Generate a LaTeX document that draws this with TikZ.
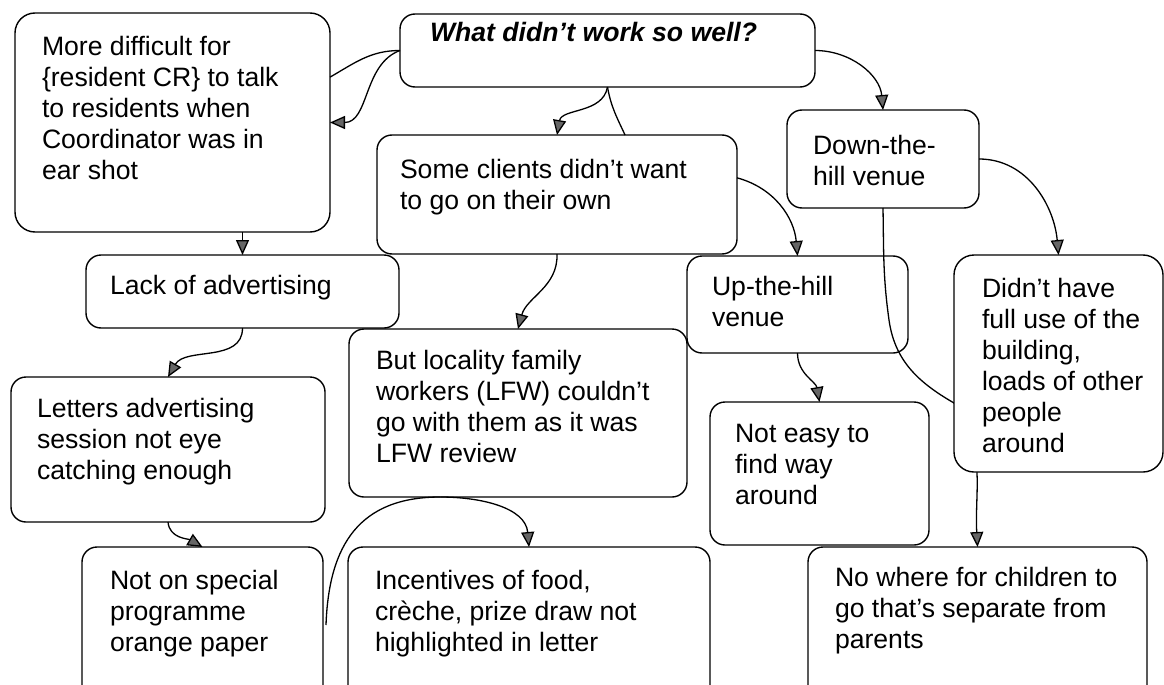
\documentclass[tikz,border=0pt]{standalone}
\usepackage{fontspec}
\setmainfont{Liberation Sans}
\usetikzlibrary{arrows.meta,calc,backgrounds}
% multi-line box text; the first baseline is the node's base
\newcommand\bxt[1]{\parbox[t]{400pt}{\raggedright\fontsize{26.6pt}{31pt}\selectfont #1}}

\begin{document}
\begin{tikzpicture}[x=1pt,y=1pt,
  card/.style={draw=black, line width=1.4pt, rounded corners=15pt,
    inner sep=0pt, outer sep=0pt, anchor=north west},
  words/.style={anchor=base west, inner sep=0pt, outer sep=0pt},
  link/.style={draw=black, line width=1.3pt},
  arr/.style={link, -{Triangle[length=15pt,width=13pt,fill=black!60]}},
]
\useasboundingbox (0,0) rectangle (1164,-685);

% boxes
\node[card, minimum width=415pt, minimum height=73pt]  (Q) at (400,-14) {};
\node[card, minimum width=315pt, minimum height=219pt, rounded corners=20pt] (A) at (15,-13) {};
\node[card, minimum width=360pt, minimum height=119pt] (B) at (377,-135) {};
\node[card, minimum width=192pt, minimum height=98pt]  (C) at (787,-110) {};
\node[card, minimum width=313pt, minimum height=73pt]  (D) at (86,-255) {};
\node[card, minimum width=338pt, minimum height=168pt] (E) at (349,-329) {};
\node[card, minimum width=221pt, minimum height=97pt]  (F) at (687,-256) {};
\node[card, minimum width=219pt, minimum height=143pt] (H) at (710,-402) {};
\node[card, minimum width=339pt, minimum height=160pt] (I) at (808,-547) {};
\node[card, minimum width=314pt, minimum height=145pt] (J) at (11,-377) {};
\node[card, minimum width=241pt, minimum height=160pt] (K) at (82,-547) {};
\node[card, minimum width=362pt, minimum height=160pt] (L) at (348,-547) {};
\node[card, fill=white, minimum width=209pt, minimum height=217pt, rounded corners=20pt] (G) at (954,-255) {};

% long connector that runs behind the "Didn't have" box
\coordinate (c1) at (889,-320);
\coordinate (cg) at (954,-403);
\begin{scope}[on background layer]
  \draw[arr] (C.south) to[out=271,in=98] (c1) to[out=-82,in=150] (cg)
    to[out=-55,in=93] (I.north);
\end{scope}

% connectors
\draw[link] (Q.west) to[out=180,in=30] ($(A.north east)!0.293!(A.south east)$);
\draw[arr] (Q.west) to[out=200,in=0] (A.east);
\draw[arr] (Q.south) to[out=260,in=80] (B.north);
\draw[link] (Q.south) to[out=280,in=115] ($(B.north west)!0.689!(B.north east)$);
\draw[arr] (Q.east) to[out=0,in=95] (C.north);
\draw[arr] (D.north |- A.south) -- (D.north);
\draw[arr] (B.south) to[out=272,in=75] (E.north);
\draw[arr] ($(B.north east)!0.36!(B.south east)$) to[out=-15,in=95] (F.north);
\draw[arr] (C.east) to[out=0,in=95] (G.north);
\draw[arr] (D.south) to[out=270,in=60] (J.north);
\draw[arr] (F.south) to[out=270,in=100] (H.north);
\draw[arr] (J.south) to[out=275,in=150] (K.north);
\coordinate (ea) at ($(E.south west)!0.27!(E.south east)$);
\coordinate (loose) at (326,-625);
\draw[arr] (ea) to[out=0,in=95] (L.north);
\draw[link] (ea) to[out=180,in=88,looseness=1.2] (loose);

% texts
\node[words] (Qt) at ($(Q.north west)+(30,-28)$) {\bxt{\bfseries\itshape What didn’t work so well?}};
\node[words] (At) at ($(A.north west)+(27,-43)$) {\bxt{More difficult for\\\{resident CR\} to talk\\to residents when\\Coordinator was in\\ear shot}};
\node[words] (Bt) at ($(B.north west)+(23,-43)$) {\bxt{Some clients didn’t want\\to go on their own}};
\node[words] (Ct) at ($(C.north west)+(26,-44)$) {\bxt{Down-the-\\hill venue}};
\node[words] (Dt) at ($(D.north west)+(24,-39)$) {\bxt{Lack of advertising}};
\node[words] (Et) at ($(E.north west)+(27,-40)$) {\bxt{But locality family\\workers (LFW) couldn’t\\go with them as it was\\LFW review}};
\node[words] (Ft) at ($(F.north west)+(25,-39)$) {\bxt{Up-the-hill\\venue}};
\node[words] (Gt) at ($(G.north west)+(28,-42)$) {\bxt{Didn’t have\\full use of the\\building,\\loads of other\\people\\around}};
\node[words] (Ht) at ($(H.north west)+(25,-40)$) {\bxt{Not easy to\\find way\\around}};
\node[words] (It) at ($(I.north west)+(27,-39)$) {\bxt{No where for children to\\go that’s separate from\\parents}};
\node[words] (Jt) at ($(J.north west)+(26,-40)$) {\bxt{Letters advertising\\session not eye\\catching enough}};
\node[words] (Kt) at ($(K.north west)+(28,-42)$) {\bxt{Not on special\\programme\\orange paper}};
\node[words] (Lt) at ($(L.north west)+(27,-42)$) {\bxt{Incentives of food,\\crèche, prize draw not\\highlighted in letter}};
\end{tikzpicture}
\end{document}
